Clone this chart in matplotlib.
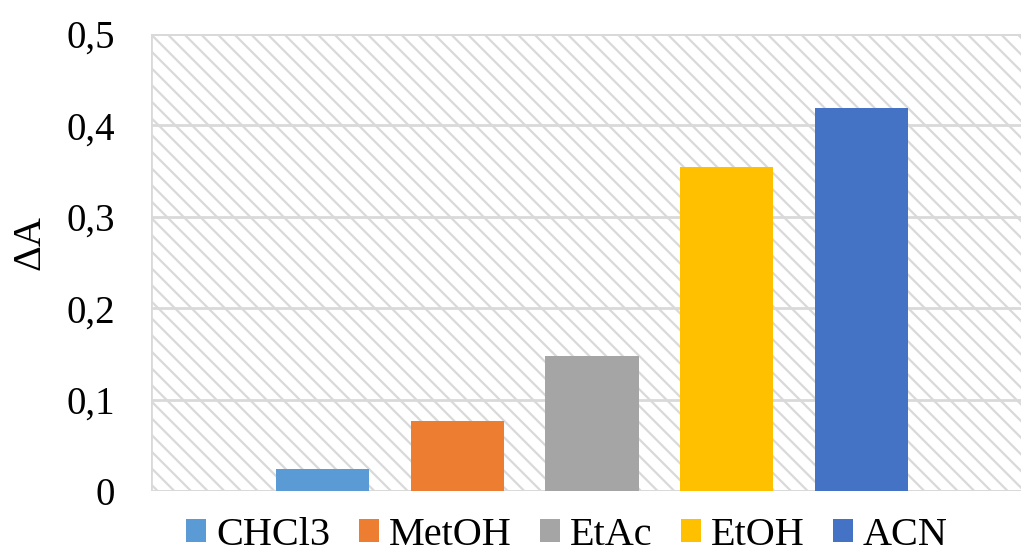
import matplotlib
matplotlib.use("Agg")
import matplotlib.pyplot as plt
from matplotlib.patches import Rectangle

# Absorbance change per solvent
solvents = ["CHCl3", "MetOH", "EtAc", "EtOH", "ACN"]
delta_a = [0.024, 0.077, 0.148, 0.354, 0.419]
colors = ["#5B9BD5", "#ED7D31", "#A5A5A5", "#FFC000", "#4472C4"]
y_ticks = [0.0, 0.1, 0.2, 0.3, 0.4, 0.5]
y_tick_labels = ["0", "0,1", "0,2", "0,3", "0,4", "0,5"]

plt.rcParams["font.family"] = ["Liberation Serif", "DejaVu Serif"]
plt.rcParams["hatch.color"] = "#d9d9d9"
plt.rcParams["hatch.linewidth"] = 1.6

fig = plt.figure(figsize=(10.21, 5.58), dpi=100)
ax = fig.add_axes([151 / 1021, 1 - 491 / 558, (1033 - 151) / 1021, (491 - 34) / 558])

# Hatched plot-area background
bg = Rectangle((0, 0), 1, 1, transform=ax.transAxes, facecolor="white",
               edgecolor="#d9d9d9", hatch="\\\\", linewidth=2.0, zorder=0)
ax.add_patch(bg)

x = list(range(len(solvents)))
bars = ax.bar(x, delta_a, width=0.69, color=colors, zorder=3)

ax.set_xlim(-1.27, 5.27)
ax.set_ylim(0, 0.5)
ax.set_yticks(y_ticks)
ax.set_yticklabels(y_tick_labels, fontsize=28)
ax.set_xticks([])
ax.tick_params(axis="y", length=0, pad=26)
ax.yaxis.grid(True, color="#d9d9d9", linewidth=2.0, zorder=1)
ax.set_axisbelow(True)
for s in ax.spines.values():
    s.set_visible(False)

fig.text(30 / 1021, 1 - 243 / 558, "ΔA", rotation=90, fontsize=29,
         ha="center", va="center")

handles = [Rectangle((0, 0), 1, 1, facecolor=c) for c in colors]
fig.legend(handles, solvents, loc="lower center", ncol=5,
           bbox_to_anchor=(567 / 1021, -0.058), frameon=False, fontsize=29,
           handlelength=0.5, handleheight=0.5, handletextpad=0.25,
           columnspacing=0.7)

fig.savefig("out.png", dpi=100)
